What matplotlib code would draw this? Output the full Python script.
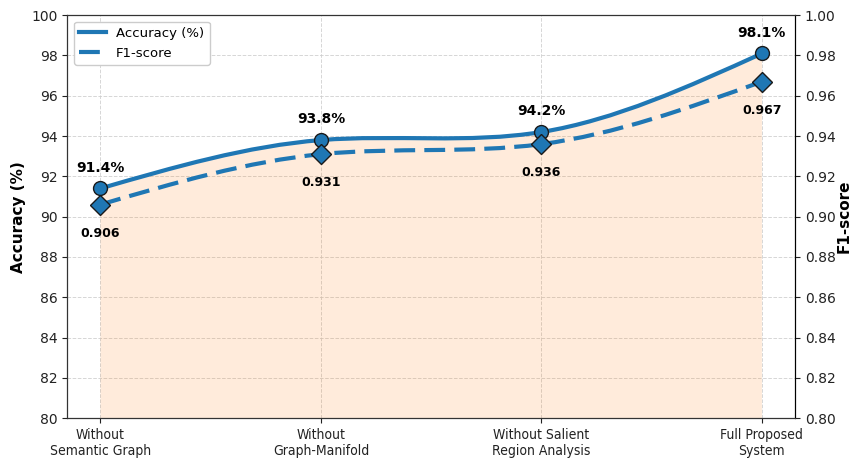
import numpy as np
import matplotlib
matplotlib.use("Agg")
import matplotlib.pyplot as plt
from matplotlib.path import Path
from matplotlib.patches import PathPatch

# ablation results
configs = ["Without\nSemantic Graph", "Without\nGraph-Manifold",
           "Without Salient\nRegion Analysis", "Full Proposed\nSystem"]
accuracy = [91.4, 93.8, 94.2, 98.1]
f1_score = [0.906, 0.931, 0.936, 0.967]

blue = "#1f77b4"


def spline_path(xs, ys):
    # natural cubic spline through the points, drawn as bezier segments
    xs = np.asarray(xs, float)
    ys = np.asarray(ys, float)
    n = len(xs)
    h = np.diff(xs)
    A = np.zeros((n, n))
    b = np.zeros(n)
    A[0, 0] = A[-1, -1] = 1
    for i in range(1, n - 1):
        A[i, i - 1] = h[i - 1]
        A[i, i] = 2 * (h[i - 1] + h[i])
        A[i, i + 1] = h[i]
        b[i] = 6 * ((ys[i + 1] - ys[i]) / h[i] - (ys[i] - ys[i - 1]) / h[i - 1])
    M = np.linalg.solve(A, b)
    verts = [(xs[0], ys[0])]
    codes = [Path.MOVETO]
    for i in range(n - 1):
        s = (ys[i + 1] - ys[i]) / h[i]
        d0 = s - h[i] * (2 * M[i] + M[i + 1]) / 6
        d1 = s + h[i] * (M[i] + 2 * M[i + 1]) / 6
        verts += [(xs[i] + h[i] / 3, ys[i] + d0 * h[i] / 3),
                  (xs[i + 1] - h[i] / 3, ys[i + 1] - d1 * h[i] / 3),
                  (xs[i + 1], ys[i + 1])]
        codes += [Path.CURVE4] * 3
    return verts, codes


x = np.arange(len(configs))

fig, ax = plt.subplots(figsize=(8.53, 4.59), dpi=100)
fig.subplots_adjust(left=0.079, right=0.932, top=0.967, bottom=0.089)
ax2 = ax.twinx()

ax.set_xlim(-0.15, 3.15)
ax.set_ylim(80, 100)
ax2.set_ylim(0.80, 1.00)

# filled area under the accuracy curve
acc_v, acc_c = spline_path(x, accuracy)
fill_verts = [(x[0], 80)] + acc_v + [(x[-1], 80), (x[0], 80)]
fill_codes = [Path.MOVETO, Path.LINETO] + acc_c[1:] + [Path.LINETO, Path.CLOSEPOLY]
ax.add_patch(PathPatch(Path(fill_verts, fill_codes), facecolor="#ff7f0e",
                       alpha=0.15, edgecolor="none", zorder=1))

ax.add_patch(PathPatch(Path(acc_v, acc_c), facecolor="none", edgecolor=blue,
                       lw=3, zorder=3))
f1_v, f1_c = spline_path(x, f1_score)
ax2.add_patch(PathPatch(Path(f1_v, f1_c), facecolor="none", edgecolor=blue,
                        lw=3, linestyle=(0, (5, 2.2)), zorder=3))

ax.plot(x, accuracy, "o", ms=10, color=blue, mec="#1a1a1a", mew=1, zorder=4)
ax2.plot(x, f1_score, "D", ms=10, color=blue, mec="#1a1a1a", mew=1, zorder=4)

for xi, a in zip(x, accuracy):
    ax.annotate(f"{a}%", (xi, a), xytext=(0, 10), textcoords="offset points",
                ha="center", va="bottom", fontsize=10, fontweight="bold")
for xi, f in zip(x, f1_score):
    ax2.annotate(f"{f:.3f}", (xi, f), xytext=(0, -16), textcoords="offset points",
                 ha="center", va="top", fontsize=9, fontweight="bold")

ax.set_xticks(x)
ax.set_xticklabels(configs, fontsize=9.5, fontstretch="condensed")
ax.set_yticks(np.arange(80, 101, 2))
ax2.set_yticks(np.arange(0.80, 1.001, 0.02))
ax.tick_params(labelsize=10, colors="#222222")
ax2.tick_params(labelsize=10, colors="#222222")
ax.set_ylabel("Accuracy (%)", fontsize=11, fontweight="bold")
ax2.set_ylabel("F1-score", fontsize=11, fontweight="bold", labelpad=1)

ax.grid(True, linestyle="--", color="#cccccc", lw=0.7, alpha=0.8)
ax.set_axisbelow(True)

# legend entries (lines only)
h1, = ax.plot([], [], color=blue, lw=3, label="Accuracy (%)")
h2, = ax.plot([], [], color=blue, lw=3, linestyle=(0, (5, 2.2)), label="F1-score")
ax2.legend(handles=[h1, h2], loc="upper left", fontsize=9.5, framealpha=1)

for sp in ["left", "top", "bottom"]:
    ax2.spines[sp].set_color("#333333")
plt.savefig("out.png")
